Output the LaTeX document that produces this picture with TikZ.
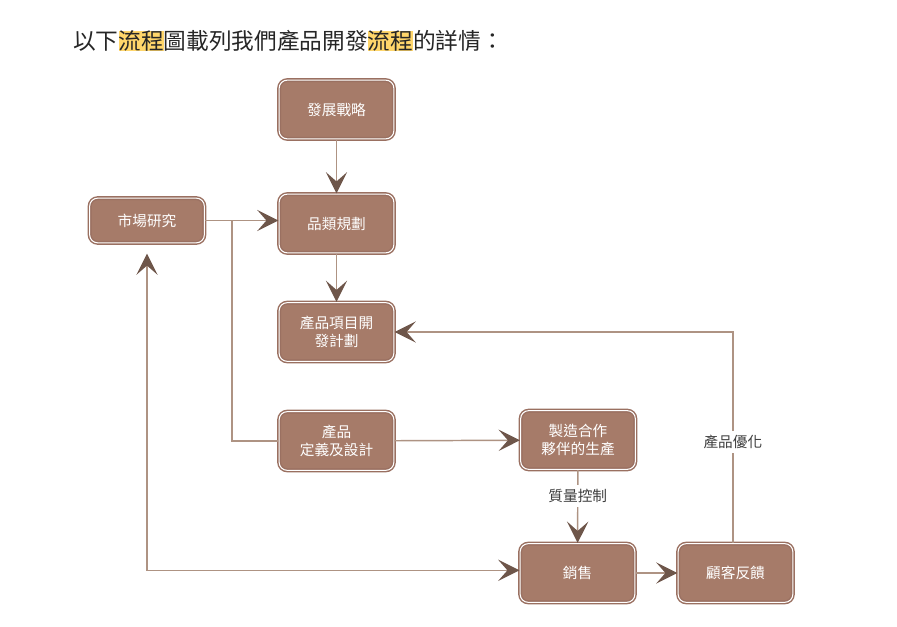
\documentclass[tikz,border=0pt]{standalone}
\usepackage{fontspec}
\setmainfont{Noto Sans CJK TC}
\usetikzlibrary{arrows.meta}
\definecolor{boxfill}{HTML}{A67B69}
\definecolor{boxedge}{HTML}{9A7061}
\definecolor{linec}{HTML}{AE9383}
\definecolor{tipc}{HTML}{6E564A}
\definecolor{hlc}{HTML}{FFD66B}
\definecolor{labc}{HTML}{3F3F3F}
\newcommand{\hlword}[1]{{\setlength{\fboxsep}{0pt}\colorbox{hlc}{#1}}}
\begin{document}
\begin{tikzpicture}[x=0.75pt,y=-0.75pt,
  stepbox/.style={draw=boxedge, line width=1.1pt, double=white, double distance=0.8pt,
    fill=boxfill, rounded corners=6pt, minimum width=86pt, minimum height=44pt,
    text=white, align=center, font=\fontsize{11}{14}\selectfont, inner sep=2pt},
  conn/.style={draw=linec, line width=1.1pt,
    -{Stealth[length=16pt,width=16pt,inset=7pt,color=tipc]}},
  dconn/.style={draw=linec, line width=1.1pt,
    {Stealth[length=16pt,width=16pt,inset=7pt,color=tipc]}-{Stealth[length=16pt,width=16pt,inset=7pt,color=tipc]}},
  plainc/.style={draw=linec, line width=1.1pt},
  lab/.style={fill=white, text=labc, font=\fontsize{11}{13}\selectfont, inner sep=3pt}]
\useasboundingbox (0,0) rectangle (897,627);

\node[anchor=west, font=\fontsize{17}{20}\selectfont, text=black!85, inner sep=0pt] (title) at (73,41)
  {以下\hlword{流程}圖載列我們產品開發\hlword{流程}的詳情：};

\node[stepbox] (s1) at (336.5,109.5) {發展戰略};
\node[stepbox] (s2) at (336.5,223.5) {品類規劃};
\node[stepbox, minimum height=33.5pt] (mr) at (147,220.5) {市場研究};
\node[stepbox] (s3) at (336.5,332) {產品項目開\\發計劃};
\node[stepbox] (s4) at (336.5,441) {產品\\定義及設計};
\node[stepbox] (s5) at (578,440) {製造合作\\夥伴的生產};
\node[stepbox] (sales) at (577.5,573) {銷售};
\node[stepbox] (fb) at (735.5,573) {顧客反饋};

\coordinate (j) at (232,220.5);

\draw[conn] (s1) -- (s2);
\draw[conn] (s2) -- (s3);
\draw[conn] (mr.east) -- (mr.east -| s2.west);
\draw[plainc] (s4.west) -| (j);
\draw[conn] (s4) -- (s5);
\draw[conn] (s5) -- node[lab, pos=0.36] {質量控制} (sales);
\draw[conn] (sales) -- (fb);
\draw[conn] ([xshift=-2pt]fb.north) |- node[lab, pos=0.24] {產品優化} (s3.east);
\draw[dconn] ([yshift=-7.5pt]mr.south) |- ([yshift=2pt]sales.west);
\end{tikzpicture}
\end{document}
